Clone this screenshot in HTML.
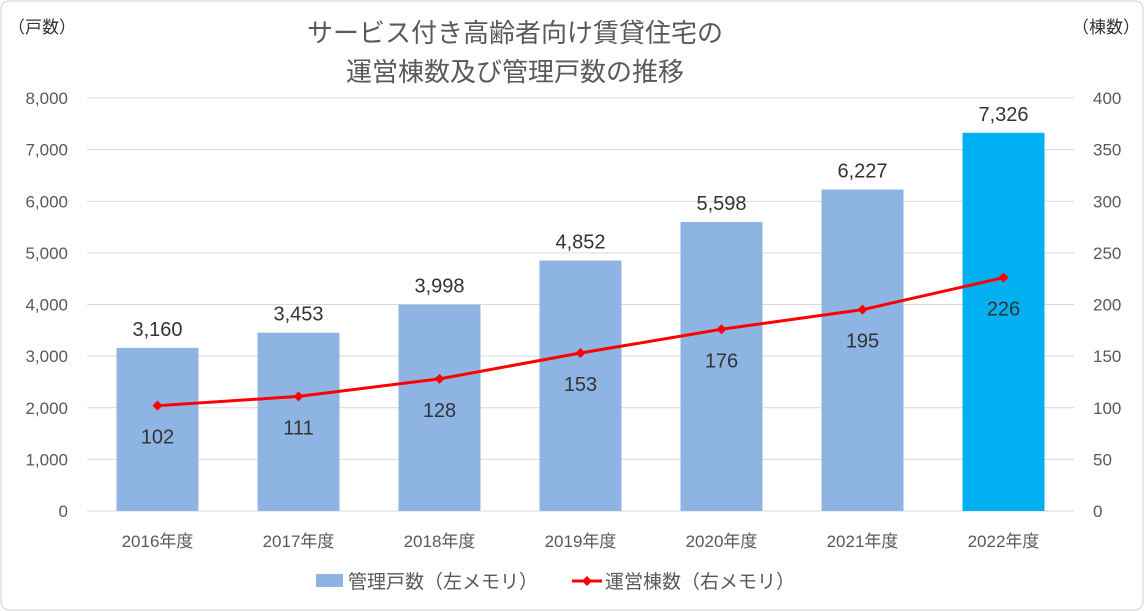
<!DOCTYPE html>
<html><head><meta charset="utf-8"><style>
body{margin:0;background:#fff;}
svg{display:block;font-family:"Liberation Sans","Noto Sans CJK JP",sans-serif;}
</style></head><body>
<svg id="c" width="1144" height="611" viewBox="0 0 1144 611">
<rect x="1" y="1" width="1142" height="609" rx="8" fill="#fff" stroke="#d0d0d0"/>
<text x="515" y="42" font-size="26" fill="#595959" text-anchor="middle">サービス付き高齢者向け賃貸住宅の</text>
<text x="515" y="81" font-size="26" fill="#595959" text-anchor="middle">運営棟数及び管理戸数の推移</text>
<text x="8" y="33" font-size="17" fill="#333">（戸数）</text>
<text x="1140" y="33" font-size="17" fill="#333" text-anchor="end">（棟数）</text>
<g id="grid"></g><g id="bars"></g><g id="line"></g><g id="labels"></g>
<g>
<rect x="316" y="574" width="27" height="13" fill="#8eb4e3"/>
<text x="348" y="588" font-size="19" fill="#595959">管理戸数（左メモリ）</text>
<line x1="572" y1="581" x2="602" y2="581" stroke="#ff0000" stroke-width="3"/>
<polygon points="587,576 592,581 587,586 582,581" fill="#ff0000"/>
<text x="605" y="588" font-size="19" fill="#595959">運営棟数（右メモリ）</text>
</g>
</svg>
<script>
const categories=["2016年度","2017年度","2018年度","2019年度","2020年度","2021年度","2022年度"];
const units=[3160,3453,3998,4852,5598,6227,7326];
const buildings=[102,111,128,153,176,195,226];
const leftTicks=[0,1000,2000,3000,4000,5000,6000,7000,8000];
const rightTicks=[0,50,100,150,200,250,300,350,400];
const NS="http://www.w3.org/2000/svg";
const L=87,R=1074,T=98,B=511;
const yL=v=>B-(v/8000)*(B-T);
const yR=v=>B-(v/400)*(B-T);
const step=(R-L)/categories.length;
const xC=i=>L+step*(i+0.5);
function mk(tag,attrs,parent,txt){const e=document.createElementNS(NS,tag);for(const k in attrs)e.setAttribute(k,attrs[k]);if(txt!==undefined)e.textContent=txt;document.getElementById(parent).appendChild(e);return e;}
const fmt=v=>v.toLocaleString('en-US');
leftTicks.forEach((t,i)=>{
  const g=mk('line',{x1:L,x2:R,y1:yL(t),y2:yL(t),stroke:'#d9d9d9','stroke-width':1},'grid');
  
  
  const a=mk('text',{x:68,y:yL(t)+6,'font-size':17,fill:'#595959','text-anchor':'end'},'grid',fmt(t));
  
  
});
rightTicks.forEach(t=>{
  const a=mk('text',{x:1093,y:yR(t)+6,'font-size':17,fill:'#595959'},'grid',t);
  
  
});
const bw=82;
categories.forEach((c,i)=>{
  const last=i===categories.length-1;
  const b=mk('rect',{x:xC(i)-bw/2,y:yL(units[i]),width:bw,height:B-yL(units[i]),fill:last?'#00b0f0':'#8eb4e3'},'bars');
  
  
  const v=mk('text',{x:xC(i),y:yL(units[i])-12,'font-size':20,fill:'#333','text-anchor':'middle'},'labels',fmt(units[i]));
  
  
  const x=mk('text',{x:xC(i),y:547,'font-size':17,fill:'#595959','text-anchor':'middle'},'labels',c);
  
  
  const bl=mk('text',{x:xC(i),y:yR(buildings[i])+38,'font-size':20,fill:'#333','text-anchor':'middle'},'labels',buildings[i]);
  
  
});
const pl=mk('polyline',{points:buildings.map((v,i)=>xC(i)+','+yR(v)).join(' '),fill:'none',stroke:'#ff0000','stroke-width':3},'line');


buildings.forEach((v,i)=>{
  const x=xC(i),y=yR(v);
  const p=mk('polygon',{points:`${x},${y-5} ${x+5},${y} ${x},${y+5} ${x-5},${y}`,fill:'#ff0000'},'line');
  
  
});
</script>
</body></html>
